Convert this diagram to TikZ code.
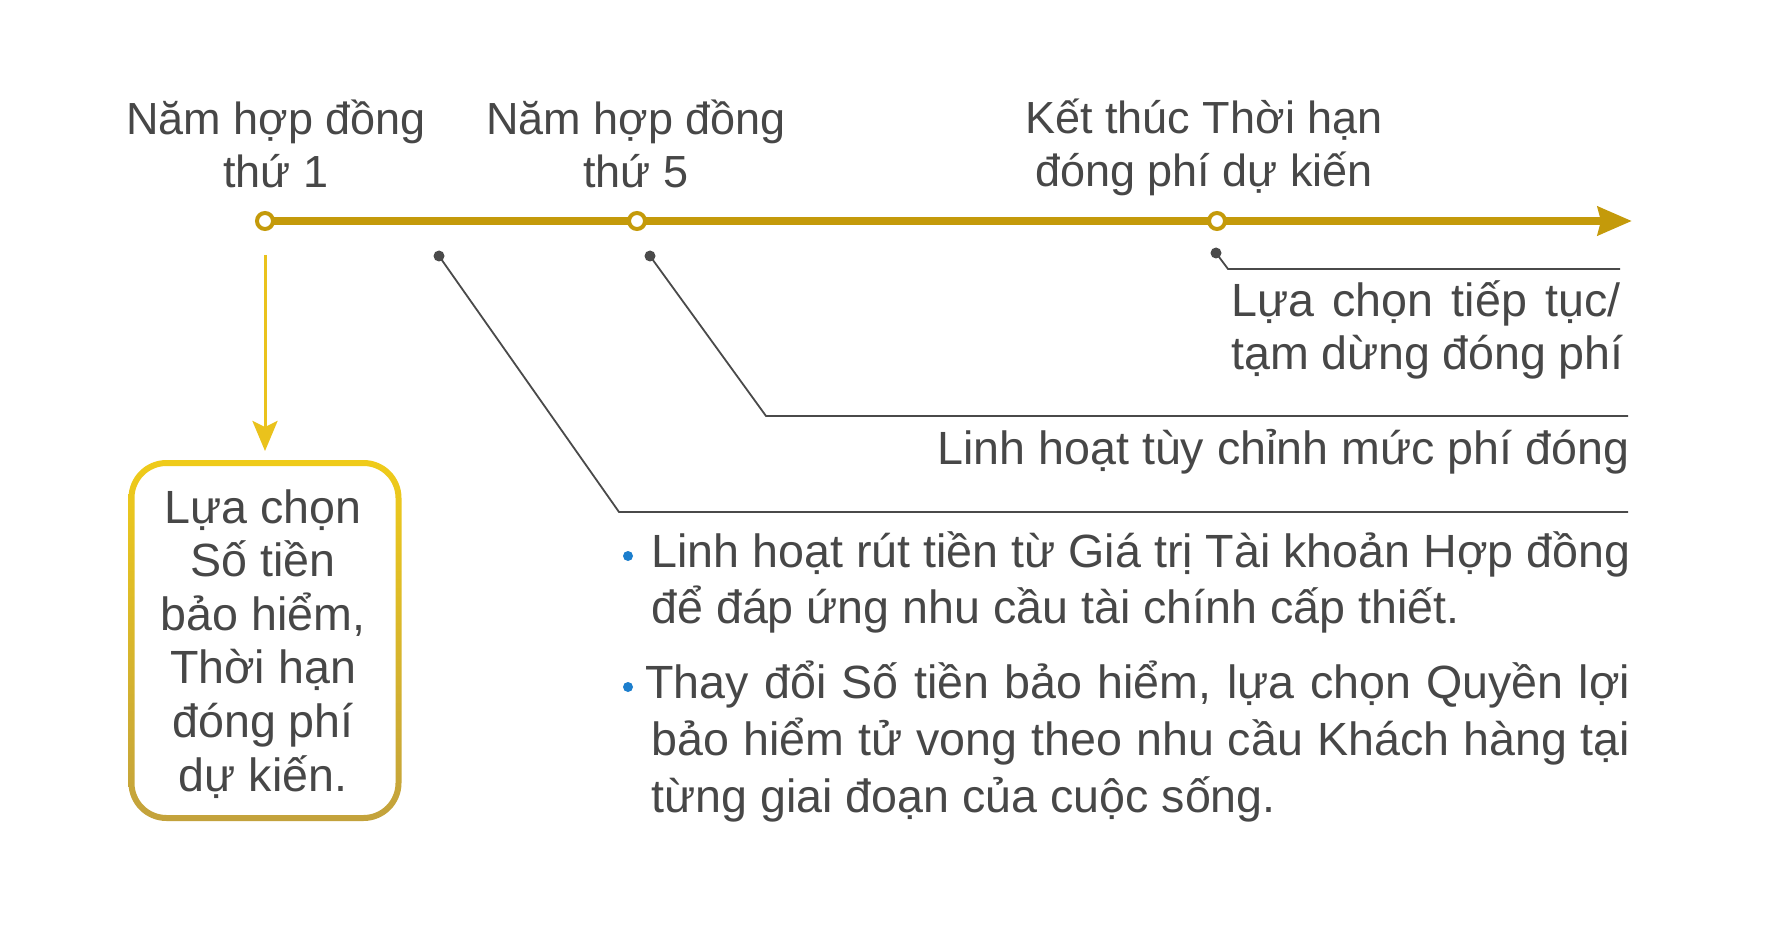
\documentclass[tikz,border=0pt]{standalone}
\usepackage{fontspec}
\setmainfont{Liberation Sans}
\usetikzlibrary{arrows.meta}
\definecolor{gold}{HTML}{C49A0A}
\definecolor{txt}{HTML}{474747}
\definecolor{ldr}{HTML}{4A4A4A}
\definecolor{boxtop}{HTML}{EFCB1A}
\definecolor{boxbot}{HTML}{C3A23C}
\definecolor{arrowy}{HTML}{EAC21C}
\definecolor{bulletc}{HTML}{1C7ECD}
\newcommand\bigtxt{\fontsize{22.5pt}{27pt}\selectfont}
\newcommand\bodytxt{\fontsize{23.3pt}{28pt}\selectfont}
\begin{document}
\begin{tikzpicture}[x=0.5pt,y=-0.5pt,
  lbl/.style={font=\bigtxt, text=txt, inner sep=0pt, anchor=base},
  blbl/.style={lbl, font=\bodytxt},
  lblw/.style={lbl, font=\bodytxt, anchor=base west},
  ring/.style={circle, draw=gold, line width=2pt, fill=white, minimum size=8pt, inner sep=0pt, outer sep=0pt},
  dotn/.style={circle, fill=ldr, inner sep=0pt, minimum size=5.5pt},
  bdot/.style={circle, fill=bulletc, inner sep=0pt, minimum size=5pt},
  leader/.style={draw=ldr, line width=0.9pt},
  leaderthick/.style={draw=ldr, line width=1.4pt},
  timeline/.style={draw=gold, line width=4pt},
  yarrow/.style={draw=arrowy, line width=1.5pt, -{Stealth[length=15pt,width=12.5pt,inset=3pt]}},
  boxn/.style={inner sep=0pt, outer sep=0pt, minimum width=136.5pt, minimum height=180.5pt}
]
\fill[white] (0,0) rectangle (1768,941);
\useasboundingbox (0,0) rectangle (1768,941);

% timeline
\node[ring] (c1) at (265,221) {};
\node[ring] (c2) at (637,221) {};
\node[ring] (c3) at (1217,221) {};
\coordinate (tip) at (1632,221);
\draw[timeline] (c1) -- (c2);
\draw[timeline] (c2) -- (c3);
\draw[timeline, -{Stealth[length=17pt,width=14pt,inset=1.5pt]}] (c3) -- (tip);

% headings
\node[lbl] (h1a) at (276,135) {Năm hợp đồng};
\node[lbl] (h1b) at (276,188) {thứ 1};
\node[lbl] (h2a) at (636,135) {Năm hợp đồng};
\node[lbl] (h2b) at (636,188) {thứ 5};
\node[lbl] (h3a) at (1204,134) {Kết thúc Thời hạn};
\node[lbl] (h3b) at (1204,187) {đóng phí dự kiến};

% box
\node[boxn] (box) at (265,640.5) {};
\shade[top color=boxtop, bottom color=boxbot, even odd rule]
  [rounded corners=19pt] (box.north west) rectangle (box.south east)
  [rounded corners=16pt] ([shift={(6,6)}]box.north west) rectangle ([shift={(-6,-6)}]box.south east);
\draw[yarrow, shorten <=13pt, shorten >=4.5pt] (c1) -- (box);
\node[blbl] (bx1) at (263,523) {Lựa chọn};
\node[blbl] (bx2) at (263,576) {Số tiền};
\node[blbl] (bx3) at (263,630) {bảo hiểm,};
\node[blbl] (bx4) at (263,683) {Thời hạn};
\node[blbl] (bx5) at (263,737) {đóng phí};
\node[blbl] (bx6) at (263,791) {dự kiến.};

% leader lines
\node[dotn] (d1) at (439,256) {};
\coordinate (k1) at (619,512);
\coordinate (e1) at (1628,512);
\draw[leader] (d1.center) -- (k1) -- (e1);

\node[dotn] (d2) at (650,256) {};
\coordinate (k2) at (766,416);
\coordinate (m2) at (869,416);
\coordinate (e2) at (1628,416);
\draw[leader] (d2.center) -- (k2) -- (e2);
\draw[leaderthick] (m2) -- (e2);

\node[dotn] (d3) at (1216,253) {};
\coordinate (k3) at (1228,269);
\coordinate (m3) at (1489,269);
\coordinate (e3) at (1620,269);
\draw[leader] (d3.center) -- (k3) -- (e3);
\draw[leaderthick] (m3) -- (e3);

% texts
\node[lblw] (t1a) at (1231,317) {\makebox[194.5pt][s]{Lựa chọn tiếp tục/}};
\node[lblw] (t1b) at (1231,370) {\makebox[196pt][s]{tạm dừng đóng phí}};
\node[lblw] (t2) at (937,465) {\makebox[346pt][s]{Linh hoạt tùy chỉnh mức phí đóng}};

\node[bdot] (b1) at (628,556) {};
\node[lblw] (p1a) at (651,567) {\makebox[489.5pt][s]{Linh hoạt rút tiền từ Giá trị Tài khoản Hợp đồng}};
\node[lblw] (p1b) at (651,623) {để đáp ứng nhu cầu tài chính cấp thiết.};
\node[bdot] (b2) at (628,687) {};
\node[lblw] (p2a) at (645,698) {\makebox[492.5pt][s]{Thay đổi Số tiền bảo hiểm, lựa chọn Quyền lợi}};
\node[lblw] (p2b) at (651,755) {\makebox[489.5pt][s]{bảo hiểm tử vong theo nhu cầu Khách hàng tại}};
\node[lblw] (p2c) at (651,812) {từng giai đoạn của cuộc sống.};
\end{tikzpicture}
\end{document}
